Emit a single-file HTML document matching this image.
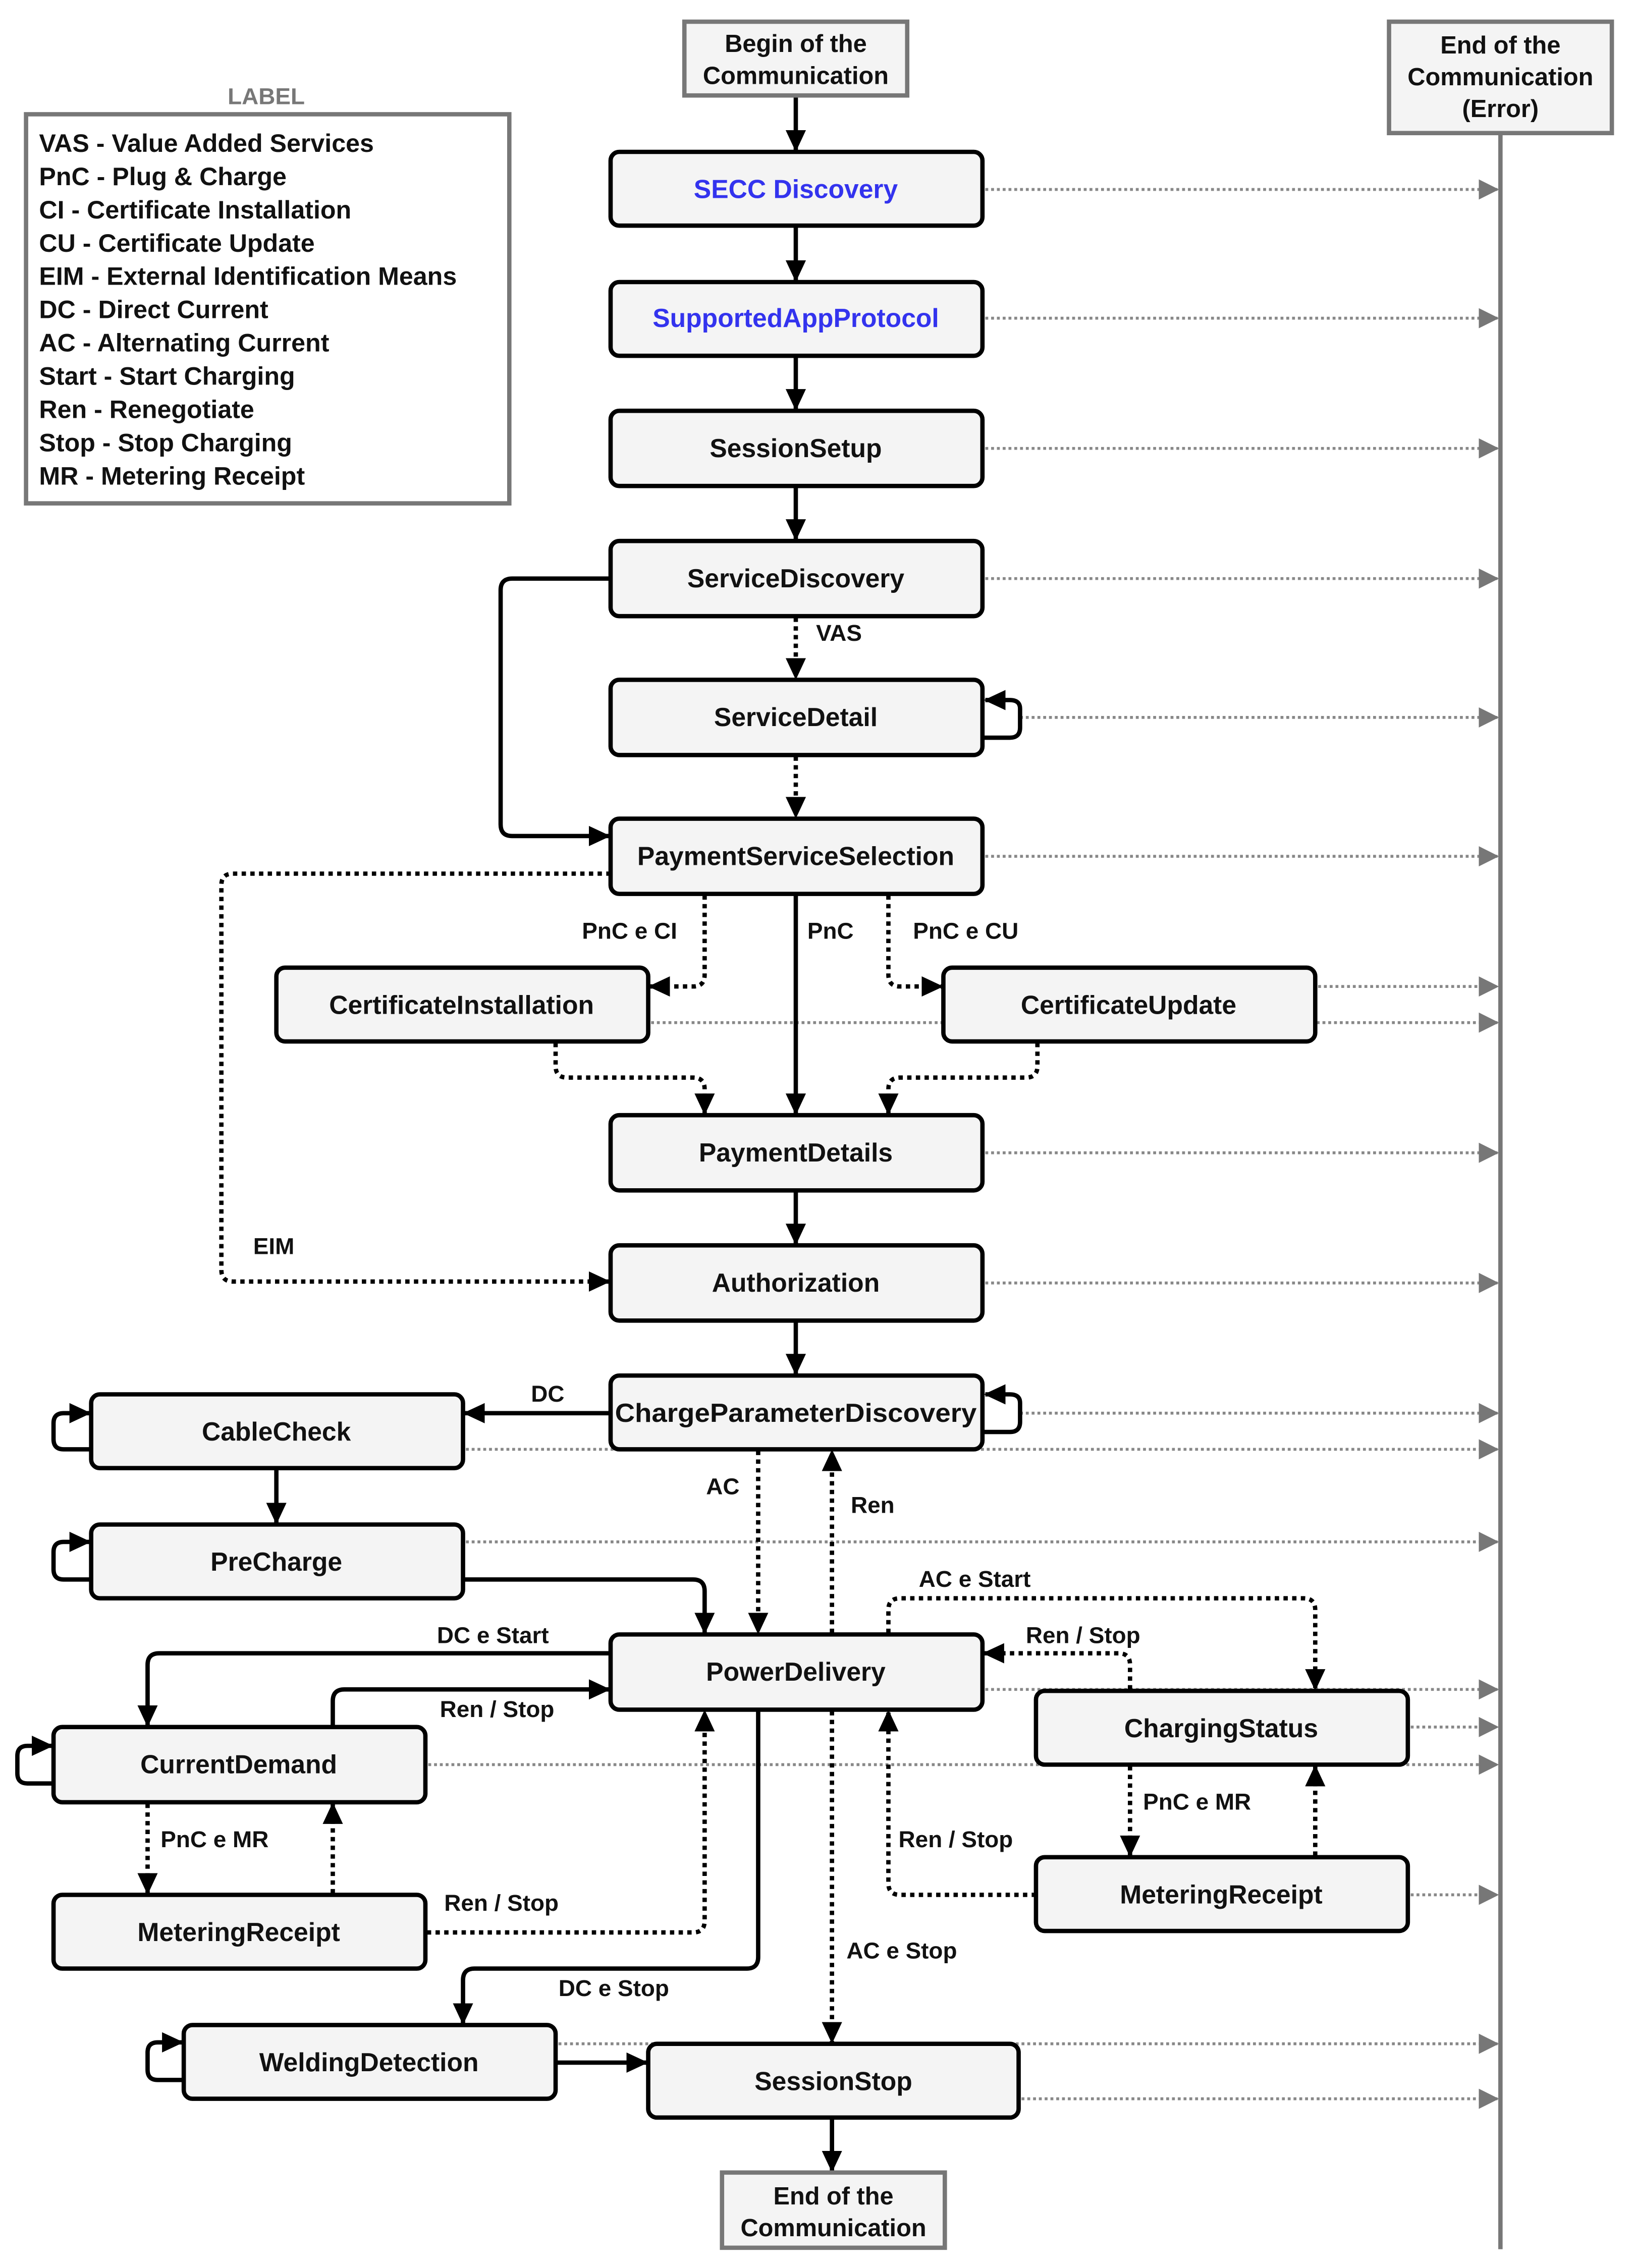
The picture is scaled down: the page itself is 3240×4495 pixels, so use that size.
<!DOCTYPE html>
<html><head><meta charset="utf-8"><style>
html,body{margin:0;padding:0;background:#fff}
svg{display:block}
text{font-family:"Liberation Sans",Arial,sans-serif;font-weight:bold}
</style></head><body>
<svg width="3240" height="4495" viewBox="0 0 1130 1568" preserveAspectRatio="none" xmlns="http://www.w3.org/2000/svg">
<defs>
<marker id="a" markerUnits="userSpaceOnUse" markerWidth="16" markerHeight="16" refX="14" refY="7" orient="auto"><path d="M0,0 L15,7 L0,14 Z" fill="#000"/></marker>
<marker id="g" markerUnits="userSpaceOnUse" markerWidth="16" markerHeight="16" refX="13" refY="7" orient="auto"><path d="M0,0 L14,7 L0,14 Z" fill="#777"/></marker>
</defs>
<!-- error lifeline -->
<line x1="1037" y1="92" x2="1037" y2="1555" stroke="#777" stroke-width="3"/>
<!-- gray dotted error arrows -->
<g stroke="#888" stroke-width="2" stroke-dasharray="2 2" fill="none" marker-end="url(#g)">
<line x1="681" y1="131" x2="1035" y2="131"/>
<line x1="681" y1="220" x2="1035" y2="220"/>
<line x1="681" y1="310" x2="1035" y2="310"/>
<line x1="681" y1="400" x2="1035" y2="400"/>
<line x1="705" y1="496" x2="1035" y2="496"/>
<line x1="681" y1="592" x2="1035" y2="592"/>
<line x1="911" y1="682" x2="1035" y2="682"/>
<line x1="450" y1="707" x2="1035" y2="707"/>
<line x1="681" y1="797" x2="1035" y2="797"/>
<line x1="681" y1="887" x2="1035" y2="887"/>
<line x1="705" y1="977" x2="1035" y2="977"/>
<line x1="322" y1="1002" x2="1035" y2="1002"/>
<line x1="322" y1="1066" x2="1035" y2="1066"/>
<line x1="681" y1="1168" x2="1035" y2="1168"/>
<line x1="975" y1="1194" x2="1035" y2="1194"/>
<line x1="296" y1="1220" x2="1035" y2="1220"/>
<line x1="975" y1="1310" x2="1035" y2="1310"/>
<line x1="386" y1="1413" x2="1035" y2="1413"/>
<line x1="706" y1="1451" x2="1035" y2="1451"/>
</g>
<!-- solid connectors -->
<g stroke="#000" stroke-width="3" fill="none" marker-end="url(#a)">
<line x1="550" y1="67" x2="550" y2="104"/>
<line x1="550" y1="157" x2="550" y2="194"/>
<line x1="550" y1="247" x2="550" y2="283"/>
<line x1="550" y1="337" x2="550" y2="373"/>
<path d="M422,400 H354 Q346,400 346,408 V570 Q346,578 354,578 H421"/>
<path d="M680,510 H698 Q705,510 705,503 V490 Q705,484 698,484 H681"/>
<line x1="550" y1="619" x2="550" y2="770"/>
<line x1="550" y1="824" x2="550" y2="860"/>
<line x1="550" y1="914" x2="550" y2="950"/>
<path d="M680,990 H698 Q705,990 705,983 V970 Q705,964 698,964 H681"/>
<line x1="422" y1="977" x2="321" y2="977"/>
<path d="M63,1002 H44 Q37,1002 37,995 V984 Q37,977 44,977 H62"/>
<path d="M63,1092 H44 Q37,1092 37,1085 V1073 Q37,1066 44,1066 H62"/>
<path d="M37,1233 H19 Q12,1233 12,1226 V1214 Q12,1207 19,1207 H36"/>
<path d="M127,1438 H109 Q102,1438 102,1431 V1419 Q102,1412 109,1412 H126"/>
<line x1="191" y1="1016" x2="191" y2="1053"/>
<path d="M321,1092 H479 Q487,1092 487,1100 V1129"/>
<path d="M422,1143 H110 Q102,1143 102,1151 V1193"/>
<path d="M230,1194 V1176 Q230,1168 238,1168 H421"/>
<path d="M524,1183 V1353 Q524,1361 516,1361 H328 Q320,1361 320,1369 V1399"/>
<line x1="385" y1="1426" x2="447" y2="1426"/>
<line x1="575" y1="1465" x2="575" y2="1501"/>
</g>
<!-- dotted black connectors -->
<g stroke="#000" stroke-width="3" stroke-dasharray="3 3" fill="none" marker-end="url(#a)">
<line x1="550" y1="427" x2="550" y2="469"/>
<line x1="550" y1="523" x2="550" y2="565"/>
<path d="M422,604 H161 Q153,604 153,612 V878 Q153,886 161,886 H421"/>
<path d="M487,619 V674 Q487,682 479,682 H449"/>
<path d="M614,619 V674 Q614,682 622,682 H651"/>
<path d="M384,721 V737 Q384,745 392,745 H479 Q487,745 487,753 V770"/>
<path d="M717,721 V737 Q717,745 709,745 H622 Q614,745 614,753 V770"/>
<line x1="524" y1="1003" x2="524" y2="1129"/>
<line x1="575" y1="1129" x2="575" y2="1003"/>
<path d="M614,1129 V1113 Q614,1105 622,1105 H901 Q909,1105 909,1113 V1168"/>
<path d="M781,1168 V1151 Q781,1143 773,1143 H680"/>
<line x1="102" y1="1247" x2="102" y2="1309"/>
<line x1="230" y1="1309" x2="230" y2="1247"/>
<path d="M295,1336 H479 Q487,1336 487,1328 V1183"/>
<line x1="781" y1="1221" x2="781" y2="1283"/>
<line x1="909" y1="1283" x2="909" y2="1221"/>
<path d="M716,1310 H622 Q614,1310 614,1302 V1183"/>
<line x1="575" y1="1183" x2="575" y2="1412"/>
</g>
<!-- terminal boxes -->
<g fill="#f4f4f4" stroke="#777" stroke-width="3">
<rect x="473" y="15" width="154" height="51"/>
<rect x="960" y="15" width="154" height="77"/>
<rect x="499" y="1502" width="154" height="52"/>
</g>
<g font-size="17" text-anchor="middle" fill="#111">
<text x="550" y="36">Begin of the</text><text x="550" y="58">Communication</text>
<text x="1037" y="37">End of the</text><text x="1037" y="59">Communication</text><text x="1037" y="81">(Error)</text>
<text x="576" y="1524">End of the</text><text x="576" y="1546">Communication</text>
</g>
<!-- legend -->
<text x="184" y="72" font-size="16" text-anchor="middle" fill="#777">LABEL</text>
<rect x="18" y="79" width="334" height="269" fill="#fff" stroke="#777" stroke-width="3"/>
<g font-size="17.5" fill="#111">
<text x="27" y="105">VAS - Value Added Services</text>
<text x="27" y="128">PnC - Plug &amp; Charge</text>
<text x="27" y="151">CI - Certificate Installation</text>
<text x="27" y="174">CU - Certificate Update</text>
<text x="27" y="197">EIM - External Identification Means</text>
<text x="27" y="220">DC - Direct Current</text>
<text x="27" y="243">AC - Alternating Current</text>
<text x="27" y="266">Start - Start Charging</text>
<text x="27" y="289">Ren - Renegotiate</text>
<text x="27" y="312">Stop - Stop Charging</text>
<text x="27" y="335">MR - Metering Receipt</text>
</g>
<!-- nodes -->
<g fill="#f4f4f4" stroke="#000" stroke-width="3">
<rect x="422" y="105" width="257" height="51" rx="6"/>
<rect x="422" y="195" width="257" height="51" rx="6"/>
<rect x="422" y="284" width="257" height="52" rx="6"/>
<rect x="422" y="374" width="257" height="52" rx="6"/>
<rect x="422" y="470" width="257" height="52" rx="6"/>
<rect x="422" y="566" width="257" height="52" rx="6"/>
<rect x="191" y="669" width="257" height="51" rx="6"/>
<rect x="652" y="669" width="257" height="51" rx="6"/>
<rect x="422" y="771" width="257" height="52" rx="6"/>
<rect x="422" y="861" width="257" height="52" rx="6"/>
<rect x="422" y="951" width="257" height="51" rx="6"/>
<rect x="63" y="964" width="257" height="51" rx="6"/>
<rect x="63" y="1054" width="257" height="51" rx="6"/>
<rect x="422" y="1130" width="257" height="52" rx="6"/>
<rect x="716" y="1169" width="257" height="51" rx="6"/>
<rect x="37" y="1194" width="257" height="52" rx="6"/>
<rect x="37" y="1310" width="257" height="51" rx="6"/>
<rect x="716" y="1284" width="257" height="51" rx="6"/>
<rect x="127" y="1400" width="257" height="51" rx="6"/>
<rect x="448" y="1413" width="256" height="51" rx="6"/>
</g>
<g font-size="18" text-anchor="middle" fill="#111">
<text x="550" y="137" fill="#3333ee">SECC Discovery</text>
<text x="550" y="226" fill="#3333ee">SupportedAppProtocol</text>
<text x="550" y="316">SessionSetup</text>
<text x="550" y="406">ServiceDiscovery</text>
<text x="550" y="502">ServiceDetail</text>
<text x="550" y="598">PaymentServiceSelection</text>
<text x="319" y="701">CertificateInstallation</text>
<text x="780" y="701">CertificateUpdate</text>
<text x="550" y="803">PaymentDetails</text>
<text x="550" y="893">Authorization</text>
<text x="550" y="983" textLength="250" lengthAdjust="spacingAndGlyphs">ChargeParameterDiscovery</text>
<text x="191" y="996">CableCheck</text>
<text x="191" y="1086">PreCharge</text>
<text x="550" y="1162">PowerDelivery</text>
<text x="844" y="1201">ChargingStatus</text>
<text x="165" y="1226">CurrentDemand</text>
<text x="165" y="1342">MeteringReceipt</text>
<text x="844" y="1316">MeteringReceipt</text>
<text x="255" y="1432">WeldingDetection</text>
<text x="576" y="1445">SessionStop</text>
</g>
<!-- edge labels -->
<g font-size="16" fill="#111">
<text x="564" y="443">VAS</text>
<text x="468" y="649" text-anchor="end">PnC e CI</text>
<text x="558" y="649">PnC</text>
<text x="631" y="649">PnC e CU</text>
<text x="175" y="867">EIM</text>
<text x="367" y="969">DC</text>
<text x="488" y="1033">AC</text>
<text x="588" y="1046">Ren</text>
<text x="635" y="1097">AC e Start</text>
<text x="709" y="1136">Ren / Stop</text>
<text x="302" y="1136">DC e Start</text>
<text x="304" y="1187">Ren / Stop</text>
<text x="111" y="1277">PnC e MR</text>
<text x="307" y="1321">Ren / Stop</text>
<text x="790" y="1251">PnC e MR</text>
<text x="621" y="1277">Ren / Stop</text>
<text x="585" y="1354">AC e Stop</text>
<text x="386" y="1380">DC e Stop</text>
</g>
</svg>
</body></html>
